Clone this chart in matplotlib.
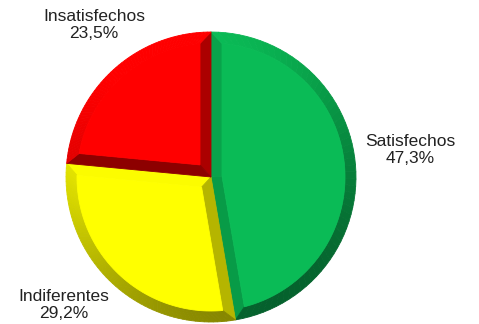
import numpy as np
import matplotlib.pyplot as plt
from matplotlib.patches import Polygon
from matplotlib.colors import to_rgb

# Slice data (clockwise from 12 o'clock)
labels = ["Satisfechos", "Indiferentes", "Insatisfechos"]
values = [47.3, 29.2, 23.5]
pct_labels = ["47,3%", "29,2%", "23,5%"]
face_colors = ["#0abb56", "#ffff00", "#ff0000"]
# label centres in pixels (x, y from top)
label_pos = [(410, 150), (64, 305), (94, 25)]

plt.rcParams["font.family"] = ["Liberation Sans", "DejaVu Sans"]

fig = plt.figure(figsize=(4.79, 3.24), dpi=100)
ax = fig.add_axes([0, 0, 1, 1])
ax.set_xlim(0, 479)
ax.set_ylim(324, 0)
ax.axis("off")

cx, cy, r = 211, 177, 145
w = 11  # bevel width
light = np.array([-0.4, 0.92])
light = light / np.linalg.norm(light)


def shade(color, n):
    f = np.clip(0.77 + 0.25 * np.dot(n, light), 0, 1)
    return tuple(np.array(to_rgb(color)) * f)


def to_px(pts):
    pts = np.atleast_2d(pts)
    return np.column_stack([cx + pts[:, 0], cy - pts[:, 1]])


def add_poly(pts, color):
    ax.add_patch(Polygon(to_px(pts), closed=True, facecolor=color,
                         edgecolor=color, lw=0.6))


total = sum(values)
start = 90.0
for val, col in zip(values, face_colors):
    span = 360.0 * val / total
    t_hi = np.radians(start)
    t_lo = np.radians(start - span)
    start -= span

    u1 = np.array([np.cos(t_lo), np.sin(t_lo)])
    u2 = np.array([np.cos(t_hi), np.sin(t_hi)])
    n1 = np.array([-np.sin(t_lo), np.cos(t_lo)])   # inward normals
    n2 = np.array([np.sin(t_hi), -np.cos(t_hi)])
    p0 = np.linalg.solve(np.vstack([n1, n2]), [w, w])
    ri = r - w
    d = np.sqrt(ri ** 2 - w ** 2)
    a1 = w * n1 + d * u1
    a2 = w * n2 + d * u2
    al1 = t_lo + np.arcsin(w / ri)
    al2 = t_hi - np.arcsin(w / ri)

    # radial bevel bands
    add_poly(np.array([[0, 0], r * u1, a1, p0]), shade(col, -n1))
    add_poly(np.array([[0, 0], p0, a2, r * u2]), shade(col, -n2))

    # outer rim band with lighting gradient
    nseg = 60
    to = np.linspace(t_lo, t_hi, nseg + 1)
    ti = np.linspace(al1, al2, nseg + 1)
    for i in range(nseg):
        pts = np.array([
            [r * np.cos(to[i]), r * np.sin(to[i])],
            [r * np.cos(to[i + 1]), r * np.sin(to[i + 1])],
            [ri * np.cos(ti[i + 1]), ri * np.sin(ti[i + 1])],
            [ri * np.cos(ti[i]), ri * np.sin(ti[i])],
        ])
        mid = 0.5 * (to[i] + to[i + 1])
        add_poly(pts, shade(col, np.array([np.cos(mid), np.sin(mid)])))

    # flat top face
    arc = np.linspace(al1, al2, 100)
    face = np.vstack([p0, np.column_stack([ri * np.cos(arc), ri * np.sin(arc)])])
    add_poly(face, col)

for lab, pct, (x, y) in zip(labels, pct_labels, label_pos):
    ax.text(x, y, f"{lab}\n{pct}", ha="center", va="center",
            fontsize=12.5, color="#222222", linespacing=1.1)

fig.savefig("out.png", dpi=100)
